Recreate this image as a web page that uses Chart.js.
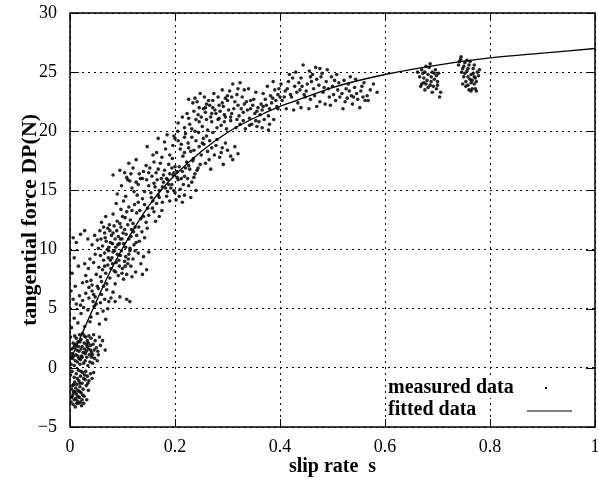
<!DOCTYPE html>
<html>
<head>
<meta charset="utf-8">
<script src="https://cdn.jsdelivr.net/npm/chart.js@4.4.1/dist/chart.umd.min.js"></script>
<style>
  html, body { margin: 0; padding: 0; background: #fff; }
  #wrap { width: 598px; height: 479px; }
</style>
</head>
<body>
<div id="wrap"><canvas id="graficoSlip" width="598" height="479"></canvas></div>
<script>
// valores: [slip rate s, tangential force DP(N)]
const measuredData = [
  // s ~ 0, abaixo de zero
  [0.002,-2.9],[0.004,-2.4],[0.006,-3.1],[0.008,-2.7],[0.010,-3.3],[0.012,-2.2],[0.014,-2.8],[0.016,-3.0],
  [0.018,-2.5],[0.020,-2.9],[0.022,-3.2],[0.024,-2.3],[0.003,-1.8],[0.005,-1.5],[0.007,-2.0],[0.009,-1.2],
  [0.011,-1.7],[0.013,-1.4],[0.015,-1.9],[0.017,-1.1],[0.019,-1.6],[0.021,-2.1],[0.023,-1.3],[0.025,-1.8],
  [0.027,-2.4],[0.029,-1.0],[0.031,-1.5],[0.033,-0.7],[0.036,-1.1],[0.039,-0.5],[0.042,-0.9],[0.045,-0.4],
  [0.001,-0.6],[0.004,-0.3],[0.008,-0.8],[0.012,-0.5],[0.016,-0.2],[0.020,-0.7],[0.024,-0.4],[0.028,-0.6],
  [0.032,-2.7],[0.026,-3.0],[0.035,-1.9],[0.030,-0.3],[0.006,-2.2],[0.014,-0.9],[0.018,-2.0],[0.011,-2.6],
  [0.003,-2.5],[0.009,-2.0],[0.013,-3.0],[0.019,-1.3],[0.021,-0.3],[0.026,-0.9],[0.034,-1.3],[0.007,-1.4],
  [0.015,-2.4],[0.023,-2.7],
  // 0 a 3
  [0.002,0.3],[0.005,0.8],[0.008,0.2],[0.011,1.1],[0.014,0.5],[0.017,1.4],[0.020,0.7],[0.023,1.8],
  [0.026,0.4],[0.029,1.2],[0.032,0.9],[0.035,1.6],[0.038,0.5],[0.041,1.3],[0.044,2.0],[0.047,0.8],
  [0.050,1.7],[0.054,1.1],[0.058,1.9],[0.062,2.3],[0.067,1.5],[0.003,1.6],[0.006,2.1],[0.009,1.9],
  [0.012,2.5],[0.015,2.2],[0.018,2.8],[0.021,2.4],[0.024,2.9],[0.027,2.1],[0.030,2.6],[0.033,2.3],
  [0.036,2.7],[0.039,1.9],[0.001,2.6],[0.004,1.2],[0.010,0.6],[0.016,1.8],[0.022,1.0],[0.028,1.6],
  [0.034,0.2],[0.040,2.5],[0.046,1.5],[0.052,0.6],[0.013,1.5],[0.019,0.3],[0.025,1.3],[0.031,2.0],
  [0.007,1.0],[0.043,0.4],[0.056,2.6],[0.037,1.1],
  [0.003,0.9],[0.007,1.7],[0.011,2.0],[0.015,1.0],[0.019,2.2],[0.023,0.9],[0.027,2.7],[0.031,1.4],
  [0.035,2.1],[0.039,1.5],[0.043,1.1],[0.048,2.3],[0.053,1.4],[0.009,2.7],[0.017,0.8],[0.021,1.6],
  [0.029,0.6],[0.033,1.8],[0.041,0.9],[0.045,2.8],
  // 3 a 7
  [0.003,3.4],[0.008,4.2],[0.015,3.8],[0.021,4.6],[0.028,3.5],[0.034,4.9],[0.040,4.3],[0.046,5.2],
  [0.052,4.6],[0.058,5.5],[0.063,4.8],[0.068,4.1],[0.072,5.0],[0.006,5.8],[0.012,5.4],[0.018,6.1],
  [0.024,5.7],[0.030,6.3],[0.036,5.9],[0.042,6.5],[0.048,6.0],[0.054,6.7],[0.060,6.2],[0.066,5.8],
  [0.078,5.9],[0.086,5.6],[0.095,6.0],[0.108,5.8],[0.114,5.6],[0.002,6.5],[0.010,6.9],[0.038,3.9],
  [0.056,3.7],[0.026,5.1],[0.044,5.6],[0.070,6.6],[0.082,6.4],
  [0.045,6.2],[0.050,5.4],[0.036,6.8],[0.064,6.9],[0.020,5.3],[0.074,5.6],
  // 7 a 12
  [0.004,8.0],[0.008,9.3],[0.006,11.0],[0.012,10.6],[0.016,8.6],[0.020,11.3],
  [0.024,7.2],[0.030,7.8],[0.035,8.4],[0.040,7.4],[0.045,8.9],[0.050,7.9],[0.055,8.5],[0.060,7.3],
  [0.064,9.1],[0.068,8.0],[0.072,8.7],[0.076,7.6],[0.080,9.3],[0.084,8.2],[0.088,8.9],[0.092,7.8],
  [0.096,9.5],[0.100,8.4],[0.104,9.0],[0.108,7.9],[0.112,9.6],[0.116,8.6],[0.120,9.2],[0.125,8.1],
  [0.130,9.7],[0.135,8.8],[0.140,9.4],[0.146,8.3],[0.150,9.8],[0.066,9.7],[0.074,9.9],[0.082,9.8],
  [0.090,9.6],[0.098,9.9],[0.106,9.4],[0.114,9.9],[0.058,9.5],[0.048,9.6],[0.038,9.2],[0.028,8.8],
  [0.042,7.0],[0.052,6.9],[0.086,7.1],[0.078,8.4],[0.094,8.6],[0.102,7.5],[0.070,7.1],[0.062,8.3],
  [0.110,8.8],[0.118,7.7],[0.124,9.9],[0.138,7.9],
  [0.032,7.3],[0.058,7.7],[0.066,8.6],[0.073,9.3],[0.081,8.8],[0.087,8.1],[0.093,9.1],[0.099,8.0],
  [0.105,8.6],[0.111,9.2],[0.085,9.9],[0.077,9.1],
  [0.042,10.4],[0.047,11.2],[0.052,10.8],[0.057,11.6],[0.062,10.3],[0.067,11.0],[0.072,11.8],[0.077,10.6],
  [0.082,11.4],[0.087,10.2],[0.092,11.1],[0.097,11.9],[0.102,10.5],[0.107,11.3],[0.112,10.9],[0.117,11.7],
  [0.122,10.4],[0.127,11.2],[0.132,10.7],[0.137,11.5],[0.054,10.1],[0.064,11.9],[0.074,10.2],[0.084,12.0],
  [0.094,10.5],[0.104,11.7],[0.114,10.1],[0.124,11.9],[0.034,10.9],[0.028,11.6],[0.069,10.7],[0.089,11.6],
  [0.099,10.9],[0.079,11.2],
  [0.091,10.4],[0.096,10.9],[0.101,11.4],[0.059,10.9],[0.066,11.4],[0.071,10.0],[0.076,11.6],[0.081,10.5],
  [0.086,10.9],[0.106,10.2],[0.116,11.1],[0.121,11.5],[0.126,10.6],[0.131,11.9],[0.142,11.0],[0.147,11.8],
  // 12 a 17.5
  [0.060,12.3],[0.068,12.8],[0.075,12.1],[0.082,13.0],[0.090,12.4],[0.097,13.4],[0.105,12.7],[0.112,13.6],
  [0.120,12.2],[0.127,13.1],[0.135,12.6],[0.142,13.8],[0.150,12.9],[0.157,13.5],[0.163,12.4],[0.088,13.9],
  [0.110,12.1],[0.130,14.0],[0.145,12.3],[0.118,13.3],[0.102,14.1],[0.165,13.9],[0.170,12.8],[0.175,13.3],
  [0.095,12.2],
  [0.100,12.8],[0.108,13.2],[0.115,12.5],[0.123,13.8],[0.133,13.3],[0.140,12.8],[0.148,13.5],[0.155,14.4],
  [0.160,13.2],[0.168,14.6],[0.176,14.0],[0.184,14.5],
  [0.090,14.7],[0.098,15.4],[0.106,14.5],[0.114,15.8],[0.122,14.9],[0.130,15.5],[0.138,14.3],[0.146,15.9],
  [0.154,14.8],[0.162,15.3],[0.170,14.4],[0.178,15.7],[0.186,14.9],[0.194,15.5],[0.202,14.2],[0.210,15.1],
  [0.218,14.6],[0.226,15.4],[0.158,14.1],[0.174,16.0],[0.190,14.1],[0.206,15.9],[0.182,15.2],[0.166,15.9],
  [0.198,15.0],[0.214,14.0],[0.142,14.9],[0.150,15.4],[0.134,16.0],[0.118,15.2],[0.186,15.9],[0.230,14.4],
  [0.240,15.0],
  [0.192,15.2],[0.200,14.8],[0.208,14.5],[0.216,15.5],[0.224,16.0],[0.232,15.7],[0.176,15.3],[0.160,15.6],
  [0.170,15.0],[0.188,15.5],[0.126,15.7],[0.110,15.9],[0.128,14.6],
  [0.082,16.3],[0.095,16.7],[0.108,16.1],[0.120,16.9],[0.132,16.4],[0.145,17.1],[0.156,16.2],[0.168,16.8],
  [0.178,16.3],[0.188,17.2],[0.198,16.5],[0.208,17.0],[0.218,16.2],[0.228,16.8],[0.238,16.4],[0.248,17.2],
  [0.160,17.4],[0.184,16.0],[0.204,16.1],[0.222,17.4],[0.172,17.3],[0.194,16.9],[0.214,16.6],[0.234,17.5],
  [0.150,16.5],[0.138,16.0],[0.112,17.3],[0.126,17.6],
  [0.196,16.3],[0.204,16.6],[0.212,16.0],[0.220,16.9],[0.226,17.1],[0.236,16.1],[0.242,16.7],[0.180,16.7],
  [0.190,16.4],[0.200,17.0],[0.164,16.5],[0.152,16.9],[0.140,16.6],[0.104,16.5],[0.116,16.4],
  // 17.5 a 20
  [0.147,18.7],[0.165,18.2],[0.180,19.1],[0.190,18.0],[0.200,19.4],[0.210,18.5],[0.220,19.8],[0.230,18.3],
  [0.240,19.2],[0.250,18.0],[0.260,19.6],[0.270,18.6],[0.280,19.3],[0.288,18.2],[0.296,19.0],[0.306,17.9],
  [0.314,18.7],[0.175,17.8],[0.195,17.7],[0.215,17.9],[0.235,17.7],[0.255,18.9],[0.265,17.6],[0.275,18.0],
  [0.285,17.8],[0.300,18.4],[0.245,19.9],[0.225,19.0],[0.205,20.0],[0.185,19.7],[0.258,17.3],[0.244,16.9],
  [0.268,16.8],[0.292,17.2],[0.310,17.6],[0.320,18.1],[0.212,18.9],[0.232,19.5],[0.252,19.0],[0.272,19.9],
  [0.168,19.4],[0.158,18.0],
  [0.182,18.5],[0.196,18.8],[0.206,19.2],[0.218,18.2],[0.226,18.6],[0.236,18.4],[0.246,18.7],[0.262,18.3],
  [0.278,18.8],[0.290,18.6],[0.198,19.6],[0.218,19.5],[0.238,20.0],[0.254,19.4],[0.266,19.2],
  // 20 a 24
  [0.223,21.5],[0.234,22.4],[0.228,20.6],[0.240,21.0],[0.246,22.0],[0.252,20.4],[0.258,21.6],[0.264,22.6],
  [0.270,20.8],[0.276,21.8],[0.282,22.9],[0.288,20.5],[0.294,21.4],[0.300,22.6],[0.306,20.9],[0.312,21.9],
  [0.318,23.1],[0.324,20.6],[0.330,21.6],[0.336,22.5],[0.342,21.1],[0.348,22.2],[0.354,23.3],[0.360,20.8],
  [0.366,21.8],[0.372,22.7],[0.378,21.3],[0.384,22.4],[0.390,23.5],[0.396,21.9],[0.400,22.9],[0.232,20.2],
  [0.244,21.4],[0.256,22.9],[0.268,21.2],[0.280,20.3],[0.292,22.1],[0.304,23.4],[0.316,20.3],[0.328,22.9],
  [0.340,23.6],[0.352,21.5],[0.364,22.3],[0.376,23.8],[0.388,21.0],[0.324,24.1],[0.300,23.0],[0.290,23.5],
  [0.310,24.0],[0.262,20.1],[0.274,23.2],[0.286,21.7],[0.298,20.2],[0.320,22.2],[0.334,20.2],[0.346,20.6],
  [0.358,22.0],[0.370,21.0],[0.382,23.0],[0.394,22.1],[0.387,24.2],[0.398,23.6],[0.250,21.2],[0.238,22.8],
  [0.260,21.0],[0.272,22.0],[0.284,21.1],[0.296,22.8],[0.308,21.5],[0.322,21.3],[0.332,23.5],[0.344,21.9],
  [0.356,20.4],[0.368,23.2],[0.380,20.6],[0.206,20.7],[0.214,21.2],[0.218,20.3],[0.226,22.7],[0.248,23.2],
  [0.226,21.1],[0.236,21.7],[0.242,22.5],[0.254,21.9],[0.266,22.2],[0.278,21.5],[0.290,22.4],[0.302,21.8],
  [0.314,22.5],[0.326,21.9],[0.338,21.8],[0.350,22.7],[0.362,21.4],[0.374,22.2],[0.386,22.8],[0.396,23.1],
  [0.260,22.3],[0.272,22.6],[0.284,22.2],[0.296,21.2],[0.308,22.9],[0.320,23.6],[0.332,22.3],[0.344,22.6],
  [0.356,21.7],[0.368,22.1],[0.380,21.9],[0.392,22.6],[0.318,21.0],[0.330,20.9],[0.342,20.5],[0.354,20.9],
  [0.366,20.3],[0.378,20.1],[0.270,21.5],[0.282,21.0],[0.294,20.8],[0.306,21.2],[0.258,22.0],[0.246,20.8],
  // 0.4 a 0.59
  [0.404,22.6],[0.410,23.4],[0.416,24.2],[0.422,22.9],[0.428,23.8],[0.434,22.4],[0.440,24.5],[0.446,23.1],
  [0.452,24.0],[0.458,22.7],[0.464,23.6],[0.470,24.4],[0.476,22.5],[0.482,23.3],[0.488,24.2],[0.494,22.9],
  [0.500,23.8],[0.506,22.6],[0.512,24.1],[0.518,23.2],[0.524,22.5],[0.530,24.0],[0.536,23.0],[0.542,23.7],
  [0.548,22.7],[0.554,23.4],[0.560,24.1],[0.566,23.0],[0.568,22.6],[0.444,25.6],[0.456,25.1],[0.468,25.4],
  [0.480,24.9],[0.490,25.2],[0.418,24.8],[0.430,25.0],[0.412,21.9],[0.426,21.8],[0.440,22.0],[0.455,21.9],
  [0.470,22.1],[0.496,22.2],[0.520,21.9],[0.538,22.3],[0.552,22.0],[0.402,24.0],[0.438,23.5],[0.462,24.8],
  [0.474,23.9],[0.486,22.3],[0.498,24.6],[0.510,23.5],[0.526,23.6],[0.544,24.4],[0.558,22.9],[0.534,24.6],
  [0.508,24.8],[0.420,23.1],[0.448,22.9],[0.585,23.3],[0.578,24.0],
  [0.408,22.9],[0.414,23.6],[0.424,24.5],[0.432,23.3],[0.442,23.8],[0.450,23.4],[0.460,24.2],[0.466,23.0],
  [0.478,24.6],[0.484,23.7],[0.492,23.6],[0.502,23.1],[0.514,22.9],[0.522,24.3],[0.532,23.4],[0.540,22.9],
  [0.546,23.2],[0.556,23.8],[0.562,22.6],[0.572,23.5],[0.476,25.3],[0.436,24.1],[0.458,24.6],[0.504,24.3],
  [0.528,22.8],
  // grupo s ~ 0.68
  [0.666,24.6],[0.670,25.2],[0.674,24.1],[0.678,25.5],[0.682,24.8],[0.686,23.9],[0.690,25.0],[0.694,24.4],
  [0.698,23.6],[0.702,24.9],[0.668,23.8],[0.672,24.9],[0.676,23.5],[0.680,24.3],[0.684,25.4],[0.688,24.6],
  [0.692,23.8],[0.696,25.2],[0.700,24.2],[0.706,23.3],[0.678,24.0],[0.686,25.7],[0.694,24.9],[0.704,22.9],
  [0.662,25.0],[0.690,23.3],[0.674,24.5],[0.698,24.7],
  [0.670,24.0],[0.682,23.7],[0.688,24.2],[0.676,25.0],[0.700,23.9],
  // grupo s ~ 0.76
  [0.740,25.6],[0.744,26.1],[0.748,25.3],[0.752,25.8],[0.756,25.1],[0.760,25.6],[0.764,24.8],[0.768,25.3],
  [0.772,24.5],[0.776,25.0],[0.750,24.6],[0.754,24.2],[0.758,23.9],[0.762,24.4],[0.766,23.6],[0.770,24.0],
  [0.774,23.4],[0.778,24.7],[0.746,25.0],[0.756,26.0],[0.762,25.9],[0.768,24.9],[0.772,23.6],[0.760,23.5],
  [0.764,23.4],[0.752,24.9],[0.758,24.6],[0.766,24.3],[0.742,25.9],[0.770,25.6],[0.780,25.2],[0.745,26.3],
  [0.750,25.5],[0.758,25.3],[0.764,24.1],[0.770,24.6],[0.754,23.8],[0.774,24.2],[0.748,24.0]
];

// curva ajustada
const fittedS  = [0, 0.025, 0.05, 0.075, 0.1, 0.125, 0.15, 0.175, 0.2, 0.25, 0.3, 0.35, 0.4, 0.45, 0.5, 0.6, 0.7, 0.8, 0.9, 1.0];
const fittedDP = [0.6, 3.1, 5.6, 8.0, 10.1, 12.0, 13.7, 15.1, 16.3, 18.3, 19.9, 21.1, 22.1, 22.9, 23.7, 24.8, 25.6, 26.2, 26.6, 27.0];

const xTicks = [0, 0.2, 0.4, 0.6, 0.8, 1];
const yTicks = [-5, 0, 5, 10, 15, 20, 25, 30];
const legendLabels = ['measured data', 'fitted data'];

const serif = '"Liberation Serif", "DejaVu Serif", serif';

// moldura, marcas internas e legenda estilo gnuplot
const framePlugin = {
  id: 'frame',
  afterDraw(chart) {
    const { ctx, chartArea: a, scales } = chart;
    ctx.save();
    ctx.strokeStyle = '#000';
    ctx.lineWidth = 1;
    ctx.beginPath();
    xTicks.forEach(v => {
      const px = Math.round(scales.x.getPixelForValue(v)) + 0.5;
      ctx.moveTo(px, a.bottom); ctx.lineTo(px, a.bottom - 8);
      ctx.moveTo(px, a.top); ctx.lineTo(px, a.top + 8);
    });
    yTicks.forEach(v => {
      const py = Math.round(scales.y.getPixelForValue(v)) + 0.5;
      ctx.moveTo(a.left, py); ctx.lineTo(a.left + 9, py);
      ctx.moveTo(a.right, py); ctx.lineTo(a.right - 9, py);
    });
    ctx.stroke();
    ctx.lineWidth = 1.5;
    ctx.strokeRect(a.left, a.top, a.right - a.left, a.bottom - a.top);

    // legenda
    ctx.font = 'bold 20px ' + serif;
    ctx.textBaseline = 'middle';
    ctx.textAlign = 'left';
    const lx = a.left + 318, ly = [a.bottom - 39, a.bottom - 17];
    legendLabels.forEach((t, i) => {
      const w = ctx.measureText(t).width;
      ctx.fillStyle = '#fff';
      ctx.fillRect(lx - 2, ly[i] - 9, w + 4, 19);
      ctx.fillStyle = '#000';
      ctx.fillText(t, lx, ly[i]);
    });
    ctx.fillRect(a.right - 50, ly[0] - 1, 2, 2);
    ctx.lineWidth = 1.2;
    ctx.beginPath();
    ctx.moveTo(a.right - 68, ly[1] + 1);
    ctx.lineTo(a.right - 23, ly[1] + 1);
    ctx.stroke();
    ctx.restore();
  }
};

const ctx = document.getElementById('graficoSlip').getContext('2d');
new Chart(ctx, {
  type: 'scatter',
  data: {
    datasets: [{
      label: legendLabels[0],
      data: measuredData.map(p => ({ x: p[0], y: p[1] })),
      backgroundColor: 'rgba(0,0,0,0.85)',
      borderWidth: 0,
      pointRadius: 1.8,
      pointHoverRadius: 1.8
    }, {
      label: legendLabels[1],
      type: 'line',
      data: fittedS.map((s, i) => ({ x: s, y: fittedDP[i] })),
      borderColor: '#000',
      borderWidth: 1.3,
      pointRadius: 0,
      fill: false,
      cubicInterpolationMode: 'monotone'
    }]
  },
  options: {
    responsive: false,
    animation: false,
    events: [],
    layout: { padding: { top: 13, right: 3, left: 0, bottom: 0 } },
    plugins: {
      legend: { display: false },
      tooltip: { enabled: false }
    },
    scales: {
      x: {
        type: 'linear',
        min: 0,
        max: 1,
        afterFit: s => { s.height = 52; s.paddingLeft = 0; s.paddingRight = 0; },
        afterBuildTicks: s => { s.ticks = xTicks.map(v => ({ value: v })); },
        ticks: {
          padding: 9,
          color: '#000',
          font: { size: 18, family: serif },
          callback: v => String(Math.round(v * 10) / 10)
        },
        grid: { color: '#000', lineWidth: 1, drawTicks: false },
        border: { display: false, dash: [2, 4] },
        title: {
          display: true,
          text: 'slip rate  s',
          color: '#000',
          font: { size: 20, family: serif, weight: 'bold' },
          padding: { top: 0, bottom: 0 }
        }
      },
      y: {
        type: 'linear',
        min: -5,
        max: 30,
        afterFit: s => { s.width = 70; s.paddingTop = 0; s.paddingBottom = 0; },
        afterBuildTicks: s => { s.ticks = yTicks.map(v => ({ value: v })); },
        ticks: {
          padding: 13,
          color: '#000',
          font: { size: 18, family: serif },
          callback: v => (v < 0 ? '\u2212' + Math.abs(v) : String(v))
        },
        grid: { color: '#000', lineWidth: 1, drawTicks: false },
        border: { display: false, dash: [2, 4] },
        title: {
          display: true,
          text: 'tangential force DP(N)',
          color: '#000',
          font: { size: 22, family: serif, weight: 'bold' },
          padding: { top: 17, bottom: 17 }
        }
      }
    }
  },
  plugins: [framePlugin]
});
</script>
</body>
</html>
